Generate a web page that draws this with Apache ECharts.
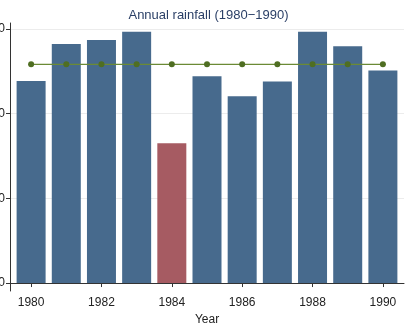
<!DOCTYPE html>
<html>
<head>
<meta charset="utf-8">
<script src="https://cdn.jsdelivr.net/npm/echarts@6/dist/echarts.min.js"></script>
<style>
  html, body { margin: 0; padding: 0; background: #fff; }
  #chart { width: 417px; height: 330px; }
</style>
</head>
<body>
<div id="chart"></div>
<script>
var years = [1980, 1981, 1982, 1983, 1984, 1985, 1986, 1987, 1988, 1989, 1990];
var rainfall = [1193, 1411, 1435, 1484, 825, 1221, 1103, 1189, 1484, 1398, 1254];
var meanLine = [1291, 1291, 1291, 1291, 1291, 1291, 1291, 1291, 1291, 1291, 1291];
var lowYear = 1984;
var yTicks = [0, 500, 1000, 1500];
var xTicks = [1980, 1982, 1984, 1986, 1988, 1990];

var barData = [];
var lineData = [];
for (var i = 0; i < years.length; i++) {
    barData.push({
        value: [years[i], rainfall[i]],
        itemStyle: { color: years[i] == lowYear ? '#a65b62' : '#476a8d' }
    });
    lineData.push([years[i], meanLine[i]]);
}

var myChart = echarts.init(document.getElementById('chart'));
var option = {
    backgroundColor: '#fff',
    animation: false,
    title: {
        text: 'Annual rainfall (1980\u22121990)',
        left: 'center',
        top: 4,
        textStyle: { fontFamily: 'Liberation Sans', fontSize: 13, fontWeight: 'normal', color: '#2a3f66' }
    },
    grid: { left: 10, right: 13, top: 23, bottom: 39, outerBoundsMode: 'none', containLabel: false },
    xAxis: {
        type: 'value',
        min: 1979.4,
        max: 1990.6,
        name: 'Year',
        nameLocation: 'middle',
        nameGap: 19,
        nameTextStyle: { fontFamily: 'Liberation Sans', fontSize: 12, color: '#222' },
        axisLine: { lineStyle: { color: '#333', width: 1 } },
        axisTick: { show: true, length: 4, customValues: xTicks, lineStyle: { color: '#333' } },
        axisLabel: {
            customValues: xTicks, fontFamily: 'Liberation Sans', fontSize: 12, color: '#222', margin: 6,
            formatter: function (v) { return String(v); }
        },
        splitLine: { show: false }
    },
    yAxis: {
        type: 'value',
        min: -47,
        max: 1535,
        axisLine: { show: true, lineStyle: { color: '#333', width: 1 } },
        axisTick: { show: true, length: 4, customValues: yTicks, lineStyle: { color: '#333' } },
        axisLabel: {
            customValues: yTicks, fontFamily: 'Liberation Sans', fontSize: 12, color: '#222', margin: 5,
            formatter: function (v) { return String(v); }
        },
        splitLine: { show: true, customValues: yTicks, lineStyle: { color: '#ececec', width: 1 } }
    },
    series: [
        {
            type: 'bar',
            data: barData,
            barWidth: 29
        },
        {
            type: 'line',
            data: lineData,
            symbol: 'circle',
            symbolSize: 6,
            lineStyle: { color: '#6b8a35', width: 1.2 },
            itemStyle: { color: '#4f6e22' },
            z: 5
        }
    ]
};
myChart.setOption(option);
</script>
</body>
</html>
